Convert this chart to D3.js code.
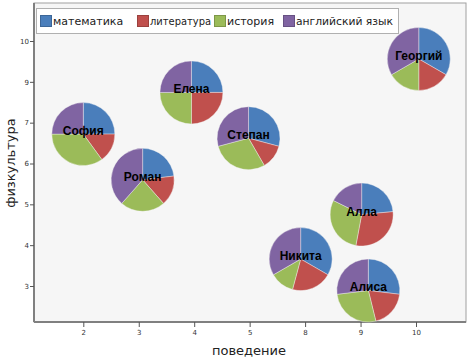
<!DOCTYPE html>
<html>
<head>
<meta charset="utf-8">
<script src="https://cdn.jsdelivr.net/npm/d3@7/dist/d3.min.js"></script>
<style>
    body { margin: 0; background: #fff; }
    svg { display: block; }
</style>
</head>
<body>
<div id="chart"></div>
<script>
"use strict";

// subjects in pie order
const subjects = ["математика", "литература", "история", "английский язык"];
const subjectColors = ["#4a7ebb", "#c0504d", "#9bbb59", "#8064a2"];

// axis categories (tick labels)
const behaviourCats = ["2", "3", "4", "5", "8", "9", "10"];
const sportCats = ["3", "4", "5", "6", "7", "9", "10"];

// students
const names = ["София", "Роман", "Елена", "Степан", "Георгий", "Алла", "Никита", "Алиса"];
const behaviour = ["2", "3", "4", "5", "10", "9", "8", "9"];
const sport = ["7", "6", "9", "7", "10", "5", "4", "3"];
// shift off the category centre, in category steps
const jitterX = [0.00, 0.07, -0.05, -0.02, 0.05, 0.02, -0.08, 0.14];
const jitterY = [-0.28, -0.40, -0.26, -0.38, -0.44, -0.25, -0.34, -0.11];

// grades per subject
const math = [5, 6, 5, 7, 8, 4, 8, 7];
const literature = [3, 4, 5, 3, 4, 5, 5, 5];
const history = [7, 6, 5, 7, 4, 5, 3, 7];
const english = [5, 10, 5, 7, 8, 3, 8, 7];

function draw() {
    const W = 469, H = 359;
    let plot = {left: 34, right: 466, top: 3, bottom: 322};

    let svg = d3.select("#chart")
        .append("svg")
        .attr("width", W)
        .attr("height", H);

    // plot area
    svg.append("rect")
        .attr("x", plot.left)
        .attr("y", plot.top)
        .attr("width", plot.right - plot.left)
        .attr("height", plot.bottom - plot.top)
        .attr("fill", "#f6f6f6")
        .attr("stroke", "#a0a0a0")
        .attr("stroke-width", 1);

    let x = d3.scaleLinear()
        .domain([0, behaviourCats.length - 1])
        .range([83.3, 416]);
    let y = d3.scaleLinear()
        .domain([0, sportCats.length - 1])
        .range([286, 41]);

    // x axis
    let xAxis = svg.append("g")
        .attr("transform", "translate(0," + plot.bottom + ")")
        .call(d3.axisBottom(x)
            .tickValues(d3.range(behaviourCats.length))
            .tickFormat(i => behaviourCats[i])
            .tickSize(5)
            .tickPadding(3));
    xAxis.select(".domain")
        .attr("d", "M" + plot.left + ",0H" + plot.right)
        .attr("stroke", "#808080")
        .attr("stroke-width", 2);

    // y axis
    let yAxis = svg.append("g")
        .attr("transform", "translate(" + plot.left + ",0)")
        .call(d3.axisLeft(y)
            .tickValues(d3.range(sportCats.length))
            .tickFormat(i => sportCats[i])
            .tickSize(4)
            .tickPadding(1));
    yAxis.select(".domain")
        .attr("d", "M0," + plot.top + "V" + plot.bottom)
        .attr("stroke", "#808080")
        .attr("stroke-width", 2);

    svg.selectAll(".tick line").attr("stroke", "#555");
    svg.selectAll(".tick text")
        .attr("fill", "#333")
        .style("font", "7px 'DejaVu Sans'");

    // axis titles
    svg.append("text")
        .attr("x", 249)
        .attr("y", 355)
        .attr("text-anchor", "middle")
        .style("font", "13px 'DejaVu Sans'")
        .attr("fill", "#222")
        .text("поведение");
    svg.append("text")
        .attr("transform", "translate(15,163) rotate(-90)")
        .attr("text-anchor", "middle")
        .style("font", "13px 'DejaVu Sans'")
        .attr("fill", "#222")
        .text("физкультура");

    // pies
    let pie = d3.pie().sort(null).value(d => d);
    let arc = d3.arc().innerRadius(0).outerRadius(31.5);
    let rows = names.map((n, i) => ({
        name: n,
        cx: x(behaviourCats.indexOf(behaviour[i]) + jitterX[i]),
        cy: y(sportCats.indexOf(sport[i]) + jitterY[i]),
        values: [math[i], literature[i], history[i], english[i]]
    }));

    let g = svg.selectAll(".pie")
        .data(rows)
        .enter()
        .append("g")
        .attr("class", "pie")
        .attr("transform", d => "translate(" + d.cx + "," + d.cy + ")");
    g.selectAll("path")
        .data(d => pie(d.values))
        .enter()
        .append("path")
        .attr("d", arc)
        .attr("fill", (d, i) => subjectColors[i])
        .attr("stroke", "#f6f6f6")
        .attr("stroke-width", 0.4);
    g.append("text")
        .attr("y", 1)
        .attr("text-anchor", "middle")
        .style("font", "bold 12px 'Liberation Sans'")
        .attr("fill", "#000")
        .text(d => d.name);

    // legend
    let legend = svg.append("g");
    legend.append("rect")
        .attr("x", 36.5)
        .attr("y", 8.5)
        .attr("width", 362)
        .attr("height", 25)
        .attr("fill", "#fff")
        .attr("stroke", "#b0b0b0");
    let itemX = [40, 137, 214, 283, 396];
    subjects.forEach((s, i) => {
        legend.append("rect")
            .attr("x", itemX[i] + 0.5)
            .attr("y", 15.5)
            .attr("width", 11)
            .attr("height", 11)
            .attr("fill", subjectColors[i])
            .attr("stroke", d3.color(subjectColors[i]).darker(0.6));
        let t = legend.append("text")
            .attr("x", itemX[i] + 13)
            .attr("y", 25)
            .style("font", "11px 'DejaVu Sans'")
            .attr("fill", "#222")
            .text(s);
        // squeeze the label if it runs into the next swatch
        let room = itemX[i + 1] - itemX[i] - 16;
        if (t.node().getComputedTextLength() > room) {
            t.attr("textLength", room).attr("lengthAdjust", "spacingAndGlyphs");
        }
    });
}

draw();
</script>
</body>
</html>
